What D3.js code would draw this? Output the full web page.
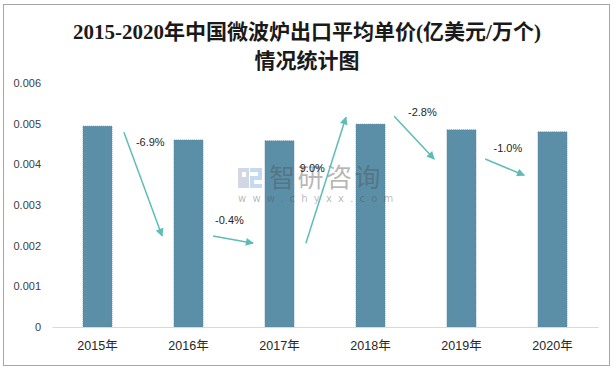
<!DOCTYPE html>
<html>
<head>
<meta charset="utf-8">
<script src="https://cdn.jsdelivr.net/npm/d3@7"></script>
<style>
  body { margin: 0; background: #fff; }
  svg { display: block; }
</style>
</head>
<body>
<svg id="chart" width="615" height="371"></svg>
<script>
// data
var years = ["2015年", "2016年", "2017年", "2018年", "2019年", "2020年"];
var prices = [0.00494, 0.00460, 0.00458, 0.00499, 0.00485, 0.00480];
var yTicks = [0, 0.001, 0.002, 0.003, 0.004, 0.005, 0.006];
var growthLabels = ["-6.9%", "-0.4%", "9.0%", "-2.8%", "-1.0%"];
// arrow annotations in data units: [index, value] start / end, and label spot
var arrowFrom = [[0.29, 0.00479], [1.27, 0.00224], [2.29, 0.00206], [3.26, 0.00518], [4.26, 0.00413]];
var arrowTo = [[0.71, 0.00224], [1.71, 0.00206], [2.73, 0.00516], [3.70, 0.00413], [4.69, 0.00373]];
var labelAt = [[0.58, 0.00455], [1.45, 0.00263], [2.36, 0.00391], [3.57, 0.00528], [4.51, 0.00440]];

var svg = d3.select("#chart");
var margin = { left: 52, right: 17, top: 83, bottom: 44 };
var W = 615, H = 371;

// frame
svg.append("rect")
  .attr("x", 3.5).attr("y", 4.5)
  .attr("width", 606).attr("height", 361)
  .attr("fill", "#fff")
  .attr("stroke", "#a6a6a6");

// title
var title = svg.append("text")
  .attr("text-anchor", "middle")
  .attr("fill", "#1a1a1a")
  .style("font-family", "'Liberation Serif', 'DejaVu Serif', 'Noto Sans CJK SC', serif")
  .style("font-size", "21px")
  .style("font-weight", "bold");
title.append("tspan").attr("x", 307).attr("y", 39).text("2015-2020年中国微波炉出口平均单价(亿美元/万个)");
title.append("tspan").attr("x", 307).attr("y", 68).text("情况统计图");

var x = d3.scaleBand()
  .domain(years)
  .range([margin.left, W - margin.right])
  .paddingInner(0.68)
  .paddingOuter(0.34);

var y = d3.scaleLinear()
  .domain([0, 0.006])
  .range([H - margin.bottom, margin.top]);

// index scale for annotations
var xi = d3.scaleLinear()
  .domain([0, years.length - 1])
  .range([x(years[0]) + x.bandwidth() / 2, x(years[years.length - 1]) + x.bandwidth() / 2]);

// y axis labels (no axis line)
var yAxis = d3.axisLeft(y)
  .tickValues(yTicks)
  .tickSize(0)
  .tickPadding(0)
  .tickFormat(function(d) { return d === 0 ? "0" : d3.format(".3f")(d); });
var gy = svg.append("g")
  .attr("transform", "translate(41,0)")
  .call(yAxis);
gy.select(".domain").remove();
gy.selectAll("text")
  .attr("fill", "#404040")
  .style("font-family", "'Liberation Sans', Arial, sans-serif")
  .style("font-size", "11px");

// bars
svg.selectAll("rect.bar")
  .data(prices)
  .enter()
  .append("rect")
    .attr("class", "bar")
    .attr("x", function(d, i) { return x(years[i]); })
    .attr("y", function(d) { return y(d); })
    .attr("width", x.bandwidth())
    .attr("height", function(d) { return y(0) - y(d); })
    .attr("fill", "#5b8fa8")
    .attr("stroke", "#4f7f97")
    .attr("stroke-width", 0.6)
    .attr("stroke-dasharray", "1,1");

// x axis
var xAxis = d3.axisBottom(x).tickSize(0).tickPadding(14);
var gx = svg.append("g")
  .attr("transform", "translate(0," + y(0) + ")")
  .call(xAxis);
gx.select(".domain").attr("stroke", "#d9d9d9").attr("stroke-width", 1.2);
gx.selectAll("text")
  .attr("fill", "#262626")
  .style("font-family", "'Liberation Sans', 'Noto Sans CJK SC', sans-serif")
  .style("font-size", "12.5px");

// watermark sits over the bars, half see-through
var wm = svg.append("g");
var logo = wm.append("g").attr("opacity", 0.6);
logo.append("rect").attr("x", 238).attr("y", 168).attr("width", 11).attr("height", 20).attr("fill", "#b4bdd3");
logo.append("rect").attr("x", 242).attr("y", 172).attr("width", 4).attr("height", 5).attr("fill", "#fff");
logo.append("rect").attr("x", 250).attr("y", 168).attr("width", 12).attr("height", 20).attr("fill", "#9ec3ea");
logo.append("rect").attr("x", 250).attr("y", 172).attr("width", 8).attr("height", 4).attr("fill", "#fff");
logo.append("rect").attr("x", 254).attr("y", 180).attr("width", 8).attr("height", 4).attr("fill", "#fff");
wm.append("text")
  .attr("x", 269).attr("y", 187)
  .attr("fill", "#505050")
  .attr("fill-opacity", 0.42)
  .style("font-family", "'Noto Sans CJK SC', sans-serif")
  .style("font-size", "26px")
  .style("letter-spacing", "2.5px")
  .text("智研咨询");
wm.append("text")
  .attr("x", 238).attr("y", 202)
  .attr("fill", "#505050")
  .attr("fill-opacity", 0.42)
  .style("font-family", "'DejaVu Sans', sans-serif")
  .style("font-size", "10px")
  .style("letter-spacing", "6.2px")
  .text("www.chyxx.com");

// arrows
var defs = svg.append("defs");
defs.append("marker")
  .attr("id", "head")
  .attr("viewBox", "0 0 10 10")
  .attr("refX", 9).attr("refY", 5)
  .attr("markerWidth", 9).attr("markerHeight", 8)
  .attr("markerUnits", "userSpaceOnUse")
  .attr("orient", "auto")
  .append("path")
    .attr("d", "M0,0 L10,5 L0,10 Z")
    .attr("fill", "#5dbdb6");

svg.selectAll("line.arrow")
  .data(arrowFrom)
  .enter()
  .append("line")
    .attr("class", "arrow")
    .attr("x1", function(d) { return xi(d[0]); })
    .attr("y1", function(d) { return y(d[1]); })
    .attr("x2", function(d, i) { return xi(arrowTo[i][0]); })
    .attr("y2", function(d, i) { return y(arrowTo[i][1]); })
    .attr("stroke", "#5dbdb6")
    .attr("stroke-width", 1.5)
    .attr("marker-end", "url(#head)");

svg.selectAll("text.growth")
  .data(growthLabels)
  .enter()
  .append("text")
    .attr("class", "growth")
    .attr("x", function(d, i) { return xi(labelAt[i][0]); })
    .attr("y", function(d, i) { return y(labelAt[i][1]); })
    .attr("dy", "0.35em")
    .attr("text-anchor", "middle")
    .attr("fill", "#262626")
    .style("font-family", "'Liberation Sans', Arial, sans-serif")
    .style("font-size", "11px")
    .text(function(d) { return d; });
</script>
</body>
</html>
